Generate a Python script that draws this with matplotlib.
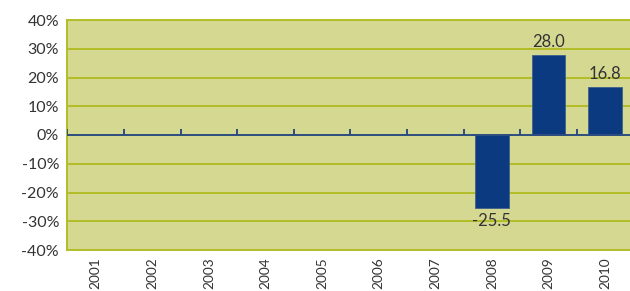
import matplotlib
matplotlib.use("Agg")
import matplotlib.pyplot as plt
import numpy as np

years = ["2001", "2002", "2003", "2004", "2005", "2006", "2007", "2008", "2009", "2010"]
values = [None, None, None, None, None, None, None, -25.5, 28.0, 16.8]
y_ticks = [-40, -30, -20, -10, 0, 10, 20, 30, 40]
y_labels = ["-40%", "-30%", "-20%", "-10%", "0%", "10%", "20%", "30%", "40%"]

plt.rcParams['font.family'] = ['Lato', 'DejaVu Sans']

bg = "#d5d890"
grid_c = "#b3bd28"
bar_c = "#0b3a81"
zero_c = "#2d4d80"
txt_c = "#333333"

fig = plt.figure(figsize=(6.30, 2.91), dpi=100)
ax = fig.add_axes([67.4/630, 41/291, 566/630, 230/291])
ax.set_facecolor(bg)

x = np.arange(len(years))
vals = [v if v is not None else 0 for v in values]
ax.set_xlim(-0.5, len(years) - 0.5)
ax.set_ylim(-40, 40)

ax.set_yticks(y_ticks)
ax.set_yticklabels(y_labels, fontsize=11.5, color=txt_c)
ax.yaxis.grid(True, color=grid_c, linewidth=1.4)
ax.set_axisbelow(True)
ax.tick_params(axis='y', length=0, pad=6)

mask = [v is not None for v in values]
ax.bar(x[mask], np.array(vals)[mask], width=0.6, color=bar_c, edgecolor="#3e6090", linewidth=0.6, zorder=3)

for xi, v in zip(x, values):
    if v is None:
        continue
    if v >= 0:
        ax.text(xi, v + 1.5, f"{v:.1f}", ha='center', va='bottom', fontsize=12, color=txt_c, zorder=4)
    else:
        ax.text(xi, v - 1.5, f"{v:.1f}", ha='center', va='top', fontsize=12, color=txt_c, zorder=4)

# zero line with boundary ticks
ax.axhline(0, color=zero_c, linewidth=1.4, zorder=4)
bounds = np.arange(len(years)) - 0.5
ax.vlines(bounds, 0, 2.0, color=zero_c, linewidth=1.4, zorder=4)

ax.set_xticks(x)
ax.set_xticklabels(years, rotation=90, fontsize=9.8, color=txt_c)
ax.tick_params(axis='x', length=0, pad=5)

for s in ['left', 'top', 'bottom']:
    ax.spines[s].set_color(grid_c)
    ax.spines[s].set_linewidth(1.4)
ax.spines['right'].set_visible(False)

fig.savefig("out.png", dpi=100)
